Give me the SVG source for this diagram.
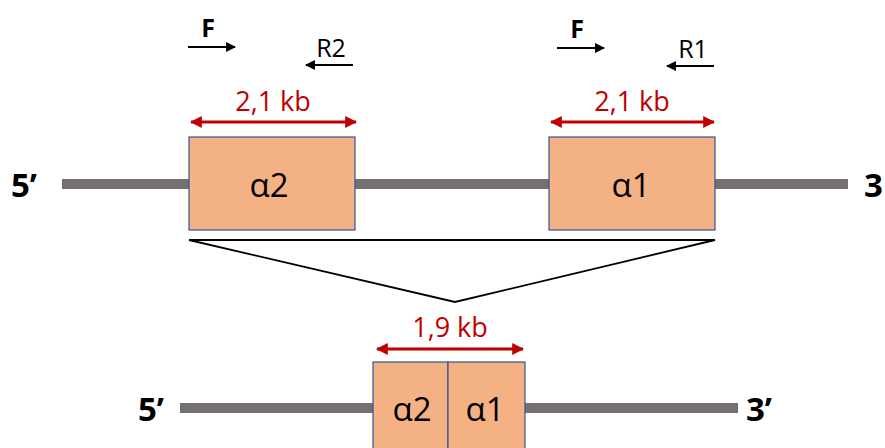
<svg xmlns="http://www.w3.org/2000/svg" width="885" height="448" viewBox="0 0 885 448">
<style>
.dna{stroke:#767171;stroke-width:10;fill:none}
.gene{fill:#F4B183;stroke:#2F5597;stroke-width:1.2}
.gl{font-family:"Open Sans","Liberation Sans",sans-serif;font-size:33px;fill:#000;text-anchor:middle}
.end{font-family:"Open Sans","Liberation Sans",sans-serif;font-size:33px;font-weight:bold;fill:#000}
.kb{font-family:"Open Sans","Liberation Sans",sans-serif;font-size:27px;fill:#C00000;text-anchor:middle}
.pr{font-family:"Open Sans","Liberation Sans",sans-serif;font-size:25px;fill:#000;text-anchor:middle}
.red{stroke:#C00000;stroke-width:3;fill:none;marker-start:url(#rh);marker-end:url(#rh)}
.blk{stroke:#000;stroke-width:1.8;fill:none;marker-end:url(#bh)}
</style>
<defs>
<marker id="rh" viewBox="0 0 10 10" refX="9" refY="5" markerWidth="4" markerHeight="4" orient="auto-start-reverse" markerUnits="strokeWidth"><path d="M0,0 L10,5 L0,10 z" fill="#C00000"/></marker>
<marker id="bh" viewBox="0 0 10 10" refX="9" refY="5" markerWidth="5.5" markerHeight="5.5" orient="auto" markerUnits="strokeWidth"><path d="M0,0 L10,5 L0,10 z" fill="#000"/></marker>
</defs>
<g id="connectors">
<line class="dna" x1="62" y1="184" x2="848" y2="184"/>
<line class="dna" x1="180" y1="408" x2="738" y2="408"/>
<line class="red" x1="191" y1="122" x2="356" y2="122"/>
<line class="red" x1="551" y1="122" x2="714" y2="122"/>
<line class="red" x1="377" y1="349" x2="523" y2="349"/>
<line class="blk" x1="188" y1="47" x2="235" y2="47"/>
<line class="blk" x1="353" y1="65" x2="306" y2="65"/>
<line class="blk" x1="557" y1="48" x2="604" y2="48"/>
<line class="blk" x1="714" y1="66" x2="667" y2="66"/>
<polyline points="189,240 715,240 455,302 189,240" fill="none" stroke="#000" stroke-width="1.8" stroke-linejoin="miter"/>
</g>
<g id="alpha2">
<rect class="gene" x="189" y="137" width="166" height="93"/>
<text class="gl" x="269" y="197">α2</text>
</g>
<g id="alpha1">
<rect class="gene" x="549" y="137" width="166" height="93"/>
<text class="gl" x="631" y="197">α1</text>
</g>
<g id="fused">
<rect class="gene" x="373" y="362" width="75" height="100"/>
<rect class="gene" x="448" y="362" width="77" height="100"/>
<text class="gl" x="412" y="421">α2</text>
<text class="gl" x="485" y="421">α1</text>
</g>
<g id="labels">
<text class="end" x="11" y="197">5’</text>
<text class="end" x="864" y="197">3</text>
<text class="end" x="138" y="421">5’</text>
<text class="end" x="746" y="421">3’</text>
<text class="kb" x="273" y="111">2,1 kb</text>
<text class="kb" x="632" y="111">2,1 kb</text>
<text class="kb" x="450" y="337">1,9 kb</text>
<text class="pr" x="208" y="37" font-weight="bold">F</text>
<text class="pr" x="331" y="57">R2</text>
<text class="pr" x="577" y="38" font-weight="bold">F</text>
<text class="pr" x="693" y="58">R1</text>
</g>
</svg>
